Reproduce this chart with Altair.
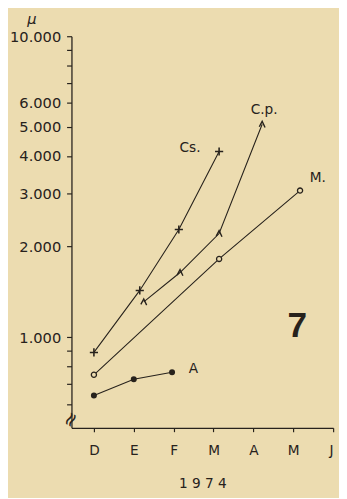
import altair as alt
import pandas as pd

# ---- data (x in months from December 1973, y in µ) ----
month_labels = ["D", "E", "F", "M", "A", "M", "J"]
month_ticks = [0, 1, 2, 3, 4, 5, 6]

cs_x = [0.0, 1.15, 2.13, 3.14]
cs_y = [890, 1430, 2280, 4140]

cp_x = [1.25, 2.16, 3.14, 4.22]
cp_y = [1310, 1640, 2210, 5100]

m_x = [0.0, 3.14, 5.17]
m_y = [750, 1820, 3070]

a_x = [0.0, 1.0, 1.96]
a_y = [640, 725, 765]

series_names = ["Cs.", "C.p.", "M.", "A"]

y_ticks = [600, 700, 800, 900, 1000, 2000, 3000, 4000, 5000, 6000, 7000, 8000, 9000, 10000]
y_labelled = [1000, 2000, 3000, 4000, 5000, 6000, 10000]

panel_number = "7"
panel_pos = (5.1, 1090)
break_pos = (-0.563, 535)

# ---- build table ----
rows = []
for name, xs, ys in zip(series_names, [cs_x, cp_x, m_x, a_x], [cs_y, cp_y, m_y, a_y]):
    for xv, yv in zip(xs, ys):
        rows.append({"series": name, "x": xv, "y": yv})
df = pd.DataFrame(rows)

INK = "#27221c"
BG = "#ecdcb0"
FONT = "DejaVu Sans"

x_scale = alt.Scale(domain=[-0.563, 6], nice=False, zero=False)
y_scale = alt.Scale(type="log", domain=[500, 10000], nice=False)

lab_list = "[" + ",".join(str(v) for v in y_labelled) + "]"
y_label_expr = (
    f"indexof({lab_list}, datum.value) >= 0 ? "
    "replace(format(datum.value, ','), ',', '.') : ''"
)
x_label_expr = "[" + ",".join(f"'{m}'" for m in month_labels) + "][datum.value]"

X = alt.X(
    "x:Q",
    scale=x_scale,
    axis=alt.Axis(
        values=month_ticks,
        labelExpr=x_label_expr,
        title="1 9 7 4",
        grid=False,
        tickSize=4,
        labelPadding=12,
        labelFontSize=14,
        titleFontSize=14,
        titleFontWeight="normal",
        titlePadding=20,
    ),
)
Y = alt.Y(
    "y:Q",
    scale=y_scale,
    axis=alt.Axis(
        values=y_ticks,
        labelExpr=y_label_expr,
        title="µ",
        titleAngle=0,
        titleX=-41,
        titleY=-18,
        titleAlign="center",
        titleBaseline="middle",
        titleFontSize=15,
        titleFontStyle="italic",
        titleFontWeight="normal",
        grid=False,
        tickSize=5,
        labelPadding=6,
        labelFontSize=15,
    ),
)

base = alt.Chart(df)

lines = base.mark_line(color=INK, strokeWidth=1.1).encode(
    x=X, y=Y, detail="series:N"
)

cross_path = "M-1,0L1,0M0,-1L0,1"
caret_path = "M-0.8,0.7L0,-0.8L0.8,0.9"

pts_cs = base.transform_filter(alt.datum.series == "Cs.").mark_point(
    shape=cross_path, filled=False, color=INK, strokeWidth=1.6, size=70, opacity=1
).encode(x="x:Q", y="y:Q")
pts_cp = base.transform_filter(alt.datum.series == "C.p.").mark_point(
    shape=caret_path, filled=False, color=INK, strokeWidth=1.4, size=55, opacity=1
).encode(x="x:Q", y="y:Q")
pts_m = base.transform_filter(alt.datum.series == "M.").mark_point(
    shape="circle", filled=True, fill=BG, stroke=INK, strokeWidth=1.3, size=28, opacity=1
).encode(x="x:Q", y="y:Q")
pts_a = base.transform_filter(alt.datum.series == "A").mark_point(
    shape="circle", filled=True, color=INK, size=38, opacity=1
).encode(x="x:Q", y="y:Q")

last = (
    df.groupby("series", sort=False).tail(1).reset_index(drop=True)
)
label_base = alt.Chart(last)
lab_specs = {
    "Cs.": dict(align="right", dx=-19, dy=-3),
    "C.p.": dict(align="center", dx=2, dy=-14),
    "M.": dict(align="left", dx=10, dy=-13),
    "A": dict(align="left", dx=17, dy=-3),
}
labels = []
for name, spec in lab_specs.items():
    labels.append(
        label_base.transform_filter(alt.datum.series == name)
        .mark_text(font=FONT, fontSize=14, color=INK, baseline="middle", **spec)
        .encode(x="x:Q", y="y:Q", text="series:N")
    )

panel = alt.Chart(pd.DataFrame({"x": [panel_pos[0]], "y": [panel_pos[1]], "t": [panel_number]})).mark_text(
    font="Liberation Sans", fontSize=36, fontWeight="bold",
    color=INK, align="center", baseline="middle"
).encode(x="x:Q", y="y:Q", text="t:N")

brk = alt.Chart(pd.DataFrame({"x": [break_pos[0]], "y": [break_pos[1]], "t": ["≈"]})).mark_text(
    font=FONT, fontSize=20, color=INK, align="center", baseline="middle", angle=300, dx=-1
).encode(x="x:Q", y="y:Q", text="t:N")

chart = (
    alt.layer(lines, pts_cs, pts_cp, pts_m, pts_a, *labels, panel, brk)
    .properties(
        width=268,
        height=401,
        autosize=alt.AutoSizeParams(type="none"),
        padding={"left": 65, "top": 23, "right": 6, "bottom": 66},
        background=BG,
    )
    .configure_view(stroke=None)
    .configure_axis(
        domainColor=INK,
        tickColor=INK,
        labelColor=INK,
        titleColor=INK,
        labelFont=FONT,
        titleFont=FONT,
        domainWidth=1.3,
        tickWidth=1.2,
    )
)

chart.save("out.html", embed_options={"renderer": "svg", "actions": False})
